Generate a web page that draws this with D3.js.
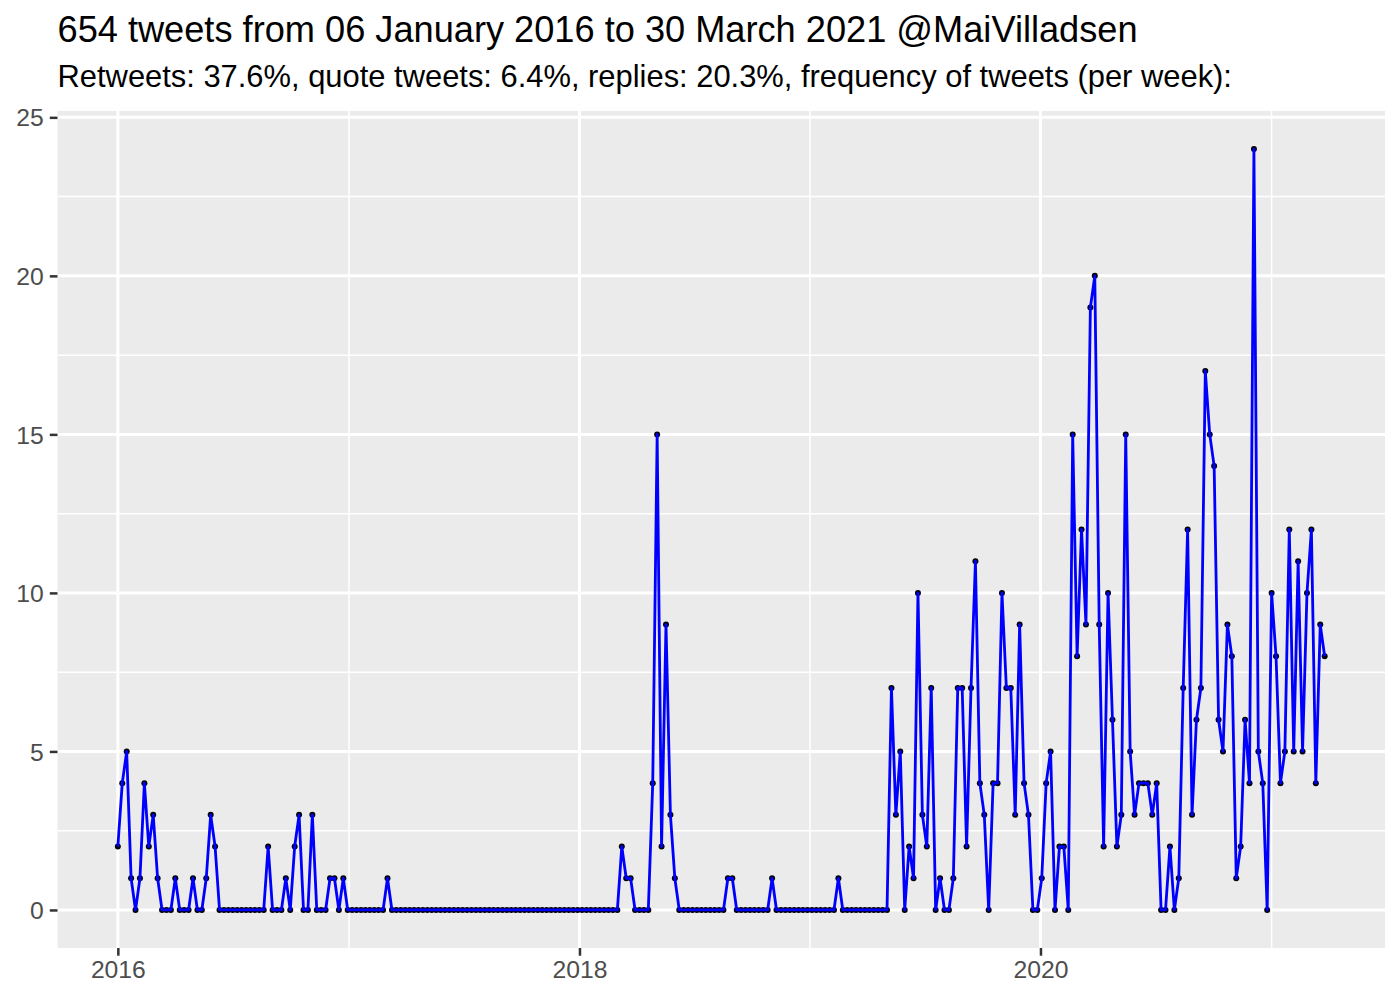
<!DOCTYPE html>
<html>
<head>
<meta charset="utf-8">
<script src="https://cdn.jsdelivr.net/npm/d3@7"></script>
<style>
  html, body { margin: 0; padding: 0; background: #ffffff; }
  svg { display: block; }
  text { font-family: "Liberation Sans", Arial, Helvetica, sans-serif; }
</style>
</head>
<body>
<svg id="chart" width="1400" height="1000"></svg>
<script>
// ---- data ----
const titleText = "654 tweets from 06 January 2016 to 30 March 2021 @MaiVilladsen";
const subtitleText = "Retweets: 37.6%, quote tweets: 6.4%, replies: 20.3%, frequency of tweets (per week):";
const firstWeek = "2016-01-01";   // first weekly bin
// tweets per week (one value per weekly bin)
const weeklyCounts = [
  2,4,5,1,0,1,4,2,3,1, 0,0,0,1,0,0,0,1,0,0,
  1,3,2,0,0,0,0,0,0,0, 0,0,0,0,2,0,0,0,1,0,
  2,3,0,0,3,0,0,0,1,1, 0,1,0,0,0,0,0,0,0,0,
  0,1,0,0,0,0,0,0,0,0, 0,0,0,0,0,0,0,0,0,0,
  0,0,0,0,0,0,0,0,0,0, 0,0,0,0,0,0,0,0,0,0,
  0,0,0,0,0,0,0,0,0,0, 0,0,0,0,2,1,1,0,0,0,
  0,4,15,2,9,3,1,0,0,0, 0,0,0,0,0,0,0,0,1,1,
  0,0,0,0,0,0,0,0,1,0, 0,0,0,0,0,0,0,0,0,0,
  0,0,0,1,0,0,0,0,0,0, 0,0,0,0,0,7,3,5,0,2,
  1,10,3,2,7,0,1,0,0,1, 7,7,2,7,11,4,3,0,4,4,
  10,7,7,3,9,4,3,0,0,1, 4,5,0,2,2,0,15,8,12,9,
  19,20,9,2,10,6,2,3,15,5, 3,4,4,4,3,4,0,0,2,0,
  1,7,12,3,6,7,17,15,14,6, 5,9,8,1,2,6,4,24,5,4,
  0,10,8,4,5,12,5,11,5,10, 12,4,9,8
];
const yTicks = [0, 5, 10, 15, 20, 25];
const yMinor = [2.5, 7.5, 12.5, 17.5, 22.5];
const xTickYears = [2016, 2018, 2020];
const xMinorYears = [2017, 2019, 2021];

// weekly dates
const start = new Date(firstWeek + "T00:00:00Z");
const data = weeklyCounts.map((v, i) => ({ date: d3.utcDay.offset(start, 7 * i), value: v }));

// ---- layout ----
const svg = d3.select("#chart");
const panel = { left: 57.5, right: 1385, top: 111, bottom: 948 };

const ext = d3.extent(data, d => d.date);
const span = ext[1] - ext[0];
const x = d3.scaleUtc()
  .domain([new Date(+ext[0] - 0.05 * span), new Date(+ext[1] + 0.05 * span)])
  .range([panel.left, panel.right]);
const yMax = d3.max(data, d => d.value);
const y = d3.scaleLinear()
  .domain([0 - 0.05 * yMax, yMax + 0.05 * yMax])
  .range([panel.bottom, panel.top]);

// panel background
svg.append("rect")
  .attr("x", panel.left).attr("y", panel.top)
  .attr("width", panel.right - panel.left).attr("height", panel.bottom - panel.top)
  .attr("fill", "#EBEBEB");

// minor grid
const g = svg.append("g");
g.selectAll(".ymin").data(yMinor).join("line")
  .attr("x1", panel.left).attr("x2", panel.right)
  .attr("y1", d => y(d)).attr("y2", d => y(d))
  .attr("stroke", "#ffffff").attr("stroke-width", 1.5);
g.selectAll(".xmin").data(xMinorYears).join("line")
  .attr("x1", d => x(new Date(Date.UTC(d, 0, 1)))).attr("x2", d => x(new Date(Date.UTC(d, 0, 1))))
  .attr("y1", panel.top).attr("y2", panel.bottom)
  .attr("stroke", "#ffffff").attr("stroke-width", 1.5);
// major grid
g.selectAll(".ymaj").data(yTicks).join("line")
  .attr("x1", panel.left).attr("x2", panel.right)
  .attr("y1", d => y(d)).attr("y2", d => y(d))
  .attr("stroke", "#ffffff").attr("stroke-width", 3);
g.selectAll(".xmaj").data(xTickYears).join("line")
  .attr("x1", d => x(new Date(Date.UTC(d, 0, 1)))).attr("x2", d => x(new Date(Date.UTC(d, 0, 1))))
  .attr("y1", panel.top).attr("y2", panel.bottom)
  .attr("stroke", "#ffffff").attr("stroke-width", 3);

// axes
const yAxis = d3.axisLeft(y).tickValues(yTicks).tickSize(7.7).tickPadding(6);
const yg = svg.append("g").attr("transform", `translate(${panel.left},0)`).call(yAxis);
const xAxis = d3.axisBottom(x).tickValues(xTickYears.map(d => new Date(Date.UTC(d, 0, 1))))
  .tickFormat(d3.utcFormat("%Y")).tickSize(7.7).tickPadding(5);
const xg = svg.append("g").attr("transform", `translate(0,${panel.bottom})`).call(xAxis);
[yg, xg].forEach(a => {
  a.select(".domain").remove();
  a.selectAll(".tick line").attr("stroke", "#333333").attr("stroke-width", 2.5);
  a.selectAll(".tick text").attr("fill", "#4D4D4D").style("font-size", "24.7px")
    .style("font-family", '"Liberation Sans", Arial, sans-serif');
});
yg.selectAll(".tick text").attr("dy", "0.35em");

// points (under line)
svg.append("g").selectAll("circle").data(data).join("circle")
  .attr("cx", d => x(d.date)).attr("cy", d => y(d.value))
  .attr("r", 3).attr("fill", "#000000");

// line
const line = d3.line().x(d => x(d.date)).y(d => y(d.value));
svg.append("path").datum(data)
  .attr("d", line).attr("fill", "none")
  .attr("stroke", "#0000FF").attr("stroke-width", 2.8)
  .attr("stroke-linejoin", "round");

// titles
svg.append("text").attr("x", 57.5).attr("y", 42)
  .style("font-size", "36.2px").attr("fill", "#000000").text(titleText);
svg.append("text").attr("x", 57.5).attr("y", 87)
  .style("font-size", "30.9px").attr("fill", "#000000").text(subtitleText);
</script>
</body>
</html>
